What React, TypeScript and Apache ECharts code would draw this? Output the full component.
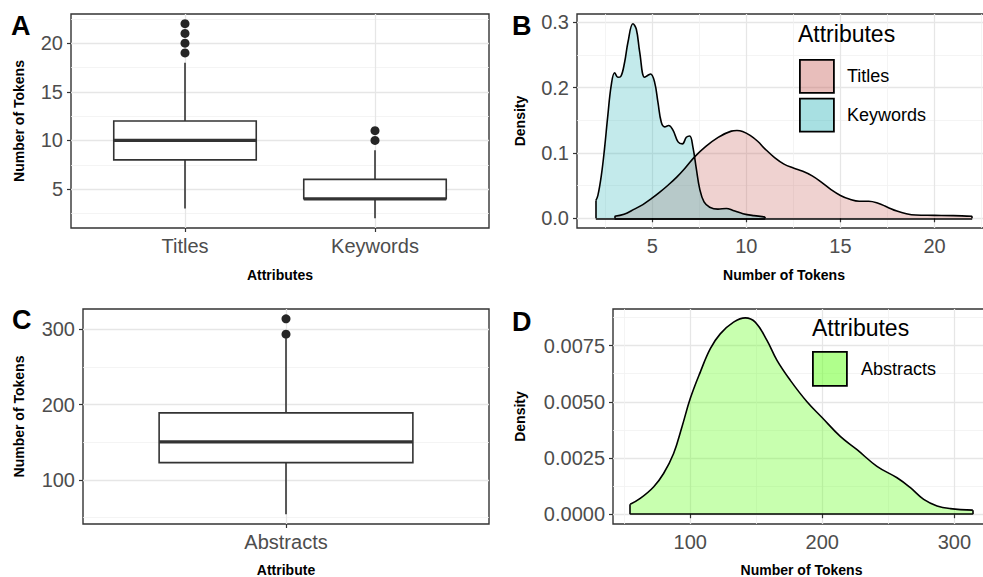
import React, { useEffect, useRef } from "react";
import * as echarts from "echarts";

// ---------- DATA ----------
// Panel A: box plot of token counts (x position, low whisker, Q1, median, Q3, high whisker)
const boxCategoriesA = ["Titles", "Keywords"];
const boxStatsA = [
  [1, 3, 8, 10, 12, 18],
  [2, 2, 4, 4, 6, 9],
];
const outliersA = [
  [1, 19], [1, 20], [1, 21], [1, 22],
  [2, 10], [2, 11],
];

// Panel C: box plot of abstract token counts
const boxCategoriesC = ["Abstracts"];
const boxStatsC = [[1, 54.5, 123, 150.5, 189, 288]];
const outliersC = [[1, 293.5], [1, 314]];

// Panel B: densities (x = number of tokens, y = density)
const titlesDensity = [
  [3, 0.003], [3.5, 0.006], [4.05, 0.014], [4.5, 0.021], [4.95, 0.03], [5.4, 0.04],
  [5.85, 0.051], [6.3, 0.063], [6.75, 0.077], [7.25, 0.094], [7.8, 0.109], [8.5, 0.124],
  [9.2, 0.1335], [9.5, 0.1345], [9.8, 0.133], [10.2, 0.127], [10.6, 0.118], [11, 0.106],
  [11.5, 0.093], [12, 0.083], [12.5, 0.077], [13, 0.072], [13.5, 0.065], [14, 0.055],
  [14.5, 0.044], [15, 0.035], [15.5, 0.029], [16, 0.026], [16.5, 0.026], [17, 0.023],
  [17.5, 0.017], [18, 0.011], [18.5, 0.007], [19, 0.005], [20, 0.0045], [21, 0.004],
  [22, 0.003],
];
const keywordsDensity = [
  [2, 0.027], [2.11, 0.035], [2.29, 0.065], [2.46, 0.106], [2.64, 0.158],
  [2.82, 0.204], [3.0, 0.223], [3.17, 0.216], [3.32, 0.217], [3.53, 0.239], [3.71, 0.27],
  [3.97, 0.298], [4.15, 0.29], [4.33, 0.255], [4.59, 0.216], [4.77, 0.219], [4.91, 0.221],
  [5.12, 0.209], [5.3, 0.178], [5.48, 0.147], [5.66, 0.14], [5.87, 0.142], [6.1, 0.135],
  [6.37, 0.117], [6.6, 0.114], [6.81, 0.124], [6.99, 0.126], [7.16, 0.109], [7.34, 0.076],
  [7.52, 0.045], [7.75, 0.025], [8.05, 0.017], [8.49, 0.014], [8.94, 0.015], [9.29, 0.012],
  [9.82, 0.007], [10.4, 0.004], [11, 0.002],
];

// Panel D: density of abstracts
const abstractsDensity = [
  [54.5, 0.00044], [62.1, 0.0007], [72.2, 0.00121], [79.8, 0.00181],
  [87.4, 0.0027], [93.7, 0.00388], [100, 0.00514], [107.6, 0.00632], [115.2, 0.00736],
  [122.7, 0.00802], [132.8, 0.00854], [141.7, 0.00873], [149.2, 0.00854], [158.1, 0.00773],
  [165.7, 0.00684], [175.8, 0.00595], [188.4, 0.005], [199.8, 0.0043], [213.6, 0.00346],
  [226.3, 0.00287], [241.4, 0.00213], [256.6, 0.00162], [266.7, 0.00118], [276.8, 0.00066],
  [286.9, 0.00037], [297, 0.00025], [314, 0.00018],
];

// Tick values
const ticksAY = [5, 10, 15, 20];
const minorAY = [2.5, 7.5, 12.5, 17.5, 22.5];
const ticksBX = [5, 10, 15, 20];
const minorBX = [2.5, 7.5, 12.5, 17.5, 22.5];
const ticksBY = [0, 0.1, 0.2, 0.3];
const minorBY = [0.05, 0.15, 0.25];
const ticksCY = [100, 200, 300];
const minorCY = [50, 150, 250];
const ticksDX = [100, 200, 300];
const minorDX = [50, 150, 250];
const ticksDY = [0, 0.0025, 0.005, 0.0075];
const minorDY = [0.00125, 0.00375, 0.00625, 0.00875];

// ---------- STYLE ----------
const FONT = "'Liberation Sans', Arial, Helvetica, sans-serif";
const MAJOR = "#E6E6E6";
const MINOR = "#F1F1F1";
const INK = "#333333";
const TICK_TEXT = "#4D4D4D";
const TITLES_FILL = "rgba(198,93,85,0.4)";
const KEYWORDS_FILL = "rgba(38,178,183,0.4)";
const ABSTRACTS_FILL = "rgba(97,255,25,0.5)";
const BOX_HALF = 0.375;

function mainAxis(opts: any) {
  const { gridIndex, min, max, ticks, formatter, name, nameGap, isY, position } = opts;
  return {
    type: "value",
    gridIndex,
    min,
    max,
    position,
    name,
    nameLocation: "middle",
    nameGap,
    nameRotate: isY ? 90 : 0,
    nameTextStyle: { fontFamily: FONT, fontWeight: "bold", fontSize: 14, color: "#000" },
    axisLine: { show: false },
    axisTick: {
      show: true,
      length: 4,
      customValues: ticks,
      lineStyle: { color: INK, width: 1.2 },
    },
    axisLabel: {
      show: true,
      customValues: ticks,
      formatter,
      margin: 8,
      fontFamily: FONT,
      fontSize: 20,
      color: TICK_TEXT,
    },
    splitLine: { show: true, lineStyle: { color: MAJOR, width: 1.3 } },
    minorTick: { show: false },
    minorSplitLine: { show: false },
  };
}

function minorAxis(opts: any) {
  const { gridIndex, min, max, ticks } = opts;
  return {
    type: "value",
    gridIndex,
    min,
    max,
    axisLine: { show: false },
    axisTick: { show: false, customValues: ticks },
    axisLabel: { show: false, customValues: ticks },
    splitLine: { show: true, lineStyle: { color: MINOR, width: 0.8 } },
  };
}

function boxRender(params: any, api: any) {
  const x = api.value(0);
  const lo = api.value(1);
  const q1 = api.value(2);
  const med = api.value(3);
  const q3 = api.value(4);
  const hi = api.value(5);
  const tl = api.coord([x - BOX_HALF, q3]);
  const br = api.coord([x + BOX_HALF, q1]);
  const mL = api.coord([x - BOX_HALF, med]);
  const mR = api.coord([x + BOX_HALF, med]);
  const pHi = api.coord([x, hi]);
  const pQ3 = api.coord([x, q3]);
  const pQ1 = api.coord([x, q1]);
  const pLo = api.coord([x, lo]);
  const thin = { stroke: INK, lineWidth: 1.6, fill: null };
  return {
    type: "group",
    children: [
      { type: "line", shape: { x1: pHi[0], y1: pHi[1], x2: pQ3[0], y2: pQ3[1] }, style: thin },
      { type: "line", shape: { x1: pQ1[0], y1: pQ1[1], x2: pLo[0], y2: pLo[1] }, style: thin },
      {
        type: "rect",
        shape: { x: tl[0], y: tl[1], width: br[0] - tl[0], height: br[1] - tl[1] },
        style: { fill: "#ffffff", stroke: INK, lineWidth: 1.6 },
      },
      {
        type: "line",
        shape: { x1: mL[0], y1: mL[1], x2: mR[0], y2: mR[1] },
        style: { stroke: INK, lineWidth: 3.2 },
      },
    ],
  };
}

// Density curve: smooth upper outline plus the closing edges (vertical ends and baseline)
function densitySeries(name: string, data: number[][], fill: string, xi: number, yi: number) {
  const first = data[0];
  const last = data[data.length - 1];
  return {
    name,
    type: "line",
    xAxisIndex: xi,
    yAxisIndex: yi,
    data,
    smooth: 0.4,
    showSymbol: false,
    symbol: "none",
    lineStyle: { color: "#000", width: 1.6 },
    itemStyle: { color: fill },
    areaStyle: { color: fill, origin: 0 },
    z: 3,
    markLine: {
      silent: true,
      symbol: ["none", "none"],
      label: { show: false },
      lineStyle: { color: "#000", width: 1.6, type: "solid" },
      data: [
        [{ coord: [first[0], 0] }, { coord: [last[0], 0] }],
        [{ coord: [first[0], 0] }, { coord: [first[0], first[1]] }],
        [{ coord: [last[0], 0] }, { coord: [last[0], last[1]] }],
      ],
    },
  };
}

const panelTitle = (text: string, left: number, top: number) => ({
  text,
  left,
  top,
  padding: 0,
  textStyle: { fontFamily: FONT, fontWeight: "bold", fontSize: 27, color: "#000" },
});

const legendTitle = (text: string, left: number, top: number) => ({
  text,
  left,
  top,
  padding: 0,
  textStyle: { fontFamily: FONT, fontWeight: "normal", fontSize: 23, color: "#000" },
});

export default function App() {
  const ref = useRef<HTMLDivElement>(null);

  useEffect(() => {
    document.body.style.margin = "0";
    if (!ref.current) return;
    const chart = echarts.init(ref.current, null, { renderer: "svg" });

    const gridBase = {
      show: true,
      backgroundColor: "#ffffff",
      borderColor: INK,
      borderWidth: 1.4,
      containLabel: false,
      outerBoundsMode: "none",
    };

    const option: any = {
      animation: false,
      backgroundColor: "#ffffff",
      title: [
        panelTitle("A", 11, 12),
        panelTitle("B", 512, 12),
        panelTitle("C", 12, 306),
        panelTitle("D", 512, 308),
        legendTitle("Attributes", 798, 22),
        legendTitle("Attributes", 812, 316),
      ],
      legend: [
        {
          left: 799,
          top: 59,
          orient: "vertical",
          itemWidth: 34,
          itemHeight: 33,
          itemGap: 4,
          padding: 0,
          selectedMode: false,
          textStyle: { fontFamily: FONT, fontSize: 18, color: "#000", padding: [0, 0, 0, 8] },
          data: [
            { name: "Titles", icon: "rect", itemStyle: { color: TITLES_FILL, borderColor: "#000", borderWidth: 1.8 } },
            { name: "Keywords", icon: "rect", itemStyle: { color: KEYWORDS_FILL, borderColor: "#000", borderWidth: 1.8 } },
          ],
        },
        {
          left: 812,
          top: 351,
          orient: "vertical",
          itemWidth: 34,
          itemHeight: 34,
          padding: 0,
          selectedMode: false,
          textStyle: { fontFamily: FONT, fontSize: 18, color: "#000", padding: [0, 0, 0, 9] },
          data: [
            { name: "Abstracts", icon: "rect", itemStyle: { color: ABSTRACTS_FILL, borderColor: "#000", borderWidth: 1.8 } },
          ],
        },
      ],
      grid: [
        { ...gridBase, left: 71, top: 14, width: 418, height: 214 },
        { ...gridBase, left: 577, top: 14, right: -8, height: 214 },
        { ...gridBase, left: 83, top: 309, width: 406, height: 215 },
        { ...gridBase, left: 613, top: 309, right: -7, height: 215 },
      ],
      xAxis: [
        mainAxis({
          gridIndex: 0, min: 0.4, max: 2.6, ticks: [1, 2],
          formatter: (v: number) => boxCategoriesA[Math.round(v) - 1] ?? "",
          name: "Attributes", nameGap: 40, position: "bottom",
        }),
        mainAxis({
          gridIndex: 1, min: 1, max: 23, ticks: ticksBX,
          formatter: (v: number) => String(v),
          name: "Number of Tokens", nameGap: 40, position: "bottom",
        }),
        minorAxis({ gridIndex: 1, min: 1, max: 23, ticks: minorBX }),
        mainAxis({
          gridIndex: 2, min: 0.4, max: 1.6, ticks: [1],
          formatter: (v: number) => boxCategoriesC[Math.round(v) - 1] ?? "",
          name: "Attribute", nameGap: 39, position: "bottom",
        }),
        mainAxis({
          gridIndex: 3, min: 41.5, max: 327, ticks: ticksDX,
          formatter: (v: number) => String(v),
          name: "Number of Tokens", nameGap: 39, position: "bottom",
        }),
        minorAxis({ gridIndex: 3, min: 41.5, max: 327, ticks: minorDX }),
      ],
      yAxis: [
        mainAxis({
          gridIndex: 0, min: 1, max: 23, ticks: ticksAY, isY: true,
          formatter: (v: number) => String(v),
          name: "Number of Tokens", nameGap: 45, position: "left",
        }),
        minorAxis({ gridIndex: 0, min: 1, max: 23, ticks: minorAY }),
        mainAxis({
          gridIndex: 1, min: -0.0149, max: 0.3129, ticks: ticksBY, isY: true,
          formatter: (v: number) => v.toFixed(1),
          name: "Density", nameGap: 50, position: "left",
        }),
        minorAxis({ gridIndex: 1, min: -0.0149, max: 0.3129, ticks: minorBY }),
        mainAxis({
          gridIndex: 2, min: 41.5, max: 327, ticks: ticksCY, isY: true,
          formatter: (v: number) => String(v),
          name: "Number of Tokens", nameGap: 57, position: "left",
        }),
        minorAxis({ gridIndex: 2, min: 41.5, max: 327, ticks: minorCY }),
        mainAxis({
          gridIndex: 3, min: -0.000435, max: 0.009125, ticks: ticksDY, isY: true,
          formatter: (v: number) => v.toFixed(4),
          name: "Density", nameGap: 86, position: "left",
        }),
        minorAxis({ gridIndex: 3, min: -0.000435, max: 0.009125, ticks: minorDY }),
      ],
      series: [
        {
          type: "custom",
          xAxisIndex: 0,
          yAxisIndex: 0,
          renderItem: boxRender,
          encode: { x: 0, y: [1, 2, 3, 4, 5] },
          data: boxStatsA,
          z: 3,
        },
        {
          type: "scatter",
          xAxisIndex: 0,
          yAxisIndex: 0,
          data: outliersA,
          symbolSize: 9,
          itemStyle: { color: "#262626", opacity: 1 },
          z: 4,
        },
        densitySeries("Titles", titlesDensity, TITLES_FILL, 1, 2),
        densitySeries("Keywords", keywordsDensity, KEYWORDS_FILL, 1, 2),
        {
          type: "custom",
          xAxisIndex: 3,
          yAxisIndex: 4,
          renderItem: boxRender,
          encode: { x: 0, y: [1, 2, 3, 4, 5] },
          data: boxStatsC,
          z: 3,
        },
        {
          type: "scatter",
          xAxisIndex: 3,
          yAxisIndex: 4,
          data: outliersC,
          symbolSize: 9,
          itemStyle: { color: "#262626", opacity: 1 },
          z: 4,
        },
        densitySeries("Abstracts", abstractsDensity, ABSTRACTS_FILL, 4, 6),
      ],
    };

    chart.setOption(option);
    return () => chart.dispose();
  }, []);

  return <div ref={ref} style={{ width: 983, height: 577 }} />;
}
